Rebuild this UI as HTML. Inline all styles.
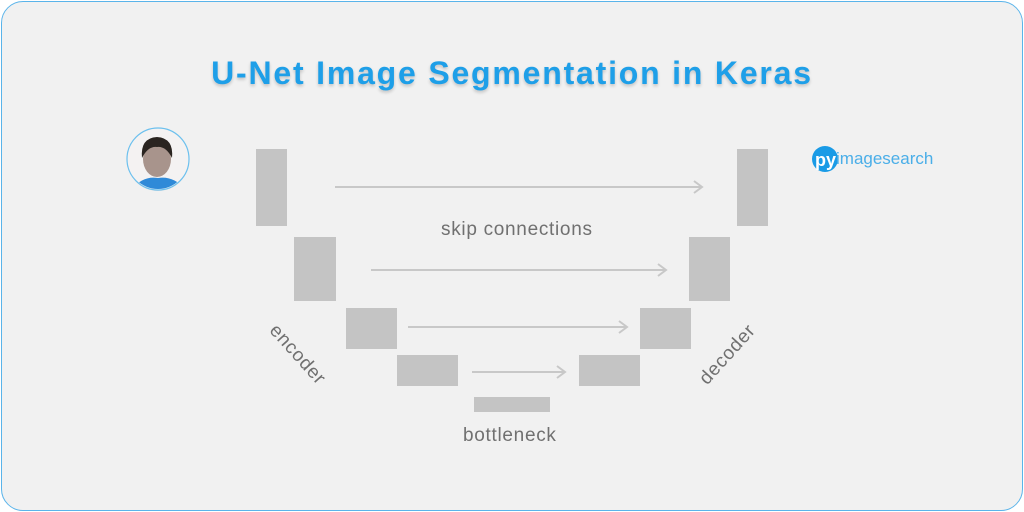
<!DOCTYPE html>
<html><head><style>
html,body{margin:0;padding:0;width:1024px;height:512px;background:#fff;overflow:hidden}
.card{position:absolute;left:1px;top:1px;width:1020px;height:508px;border:1px solid #5ab4ea;border-radius:22px;background:#f1f1f1}
.r{position:absolute;background:#c4c4c4}
.t{position:absolute;font-family:"Liberation Sans",sans-serif;color:#707070;font-size:19px;letter-spacing:0.7px;white-space:nowrap}
h1{position:absolute;left:0;width:1024px;top:55px;margin:0;text-align:center;font-family:"Liberation Sans",sans-serif;font-weight:bold;font-size:32px;letter-spacing:1.8px;color:#1e9fe8;text-shadow:0 2px 3px rgba(0,0,0,.2)}
</style></head><body>
<div class="card"></div>
<h1>U-Net Image Segmentation in Keras</h1>
<svg style="position:absolute;left:0;top:0" width="1024" height="512">
<defs><clipPath id="c"><circle cx="158" cy="159" r="30"/></clipPath></defs>
<circle cx="158" cy="160" r="31" fill="#ddd"/>
<circle cx="158" cy="159" r="31" fill="#f4f2f2" stroke="#6cc0ee" stroke-width="1.2"/>
<g clip-path="url(#c)">
<path d="M128 195 Q140 175 158 178 Q176 175 190 195Z" fill="#2f8ad8"/>
<ellipse cx="157" cy="159" rx="14" ry="18" fill="#a8948c"/>
<path d="M142 158 Q140 138 157 137 Q174 138 172 158 Q166 146 157 147 Q148 146 142 158Z" fill="#2a2420"/>
</g>
<g stroke="#c8c8c8" stroke-width="2" fill="none">
<path d="M335 187H702M694 181L702 187L694 193"/>
<path d="M371 270H666M658 264L666 270L658 276"/>
<path d="M408 327H627M619 321L627 327L619 333"/>
<path d="M472 372H565M557 366L565 372L557 378"/>
</g>
<circle cx="825" cy="159" r="13" fill="#1a9be6"/>
<text x="815" y="166" font-family="Liberation Sans,sans-serif" font-weight="bold" font-size="18" fill="#fff">py</text>
<text x="836" y="164" font-family="Liberation Sans,sans-serif" font-size="17" fill="#4aaee8">imagesearch</text>
</svg>
<div class="r" style="left:256px;top:149px;width:31px;height:77px"></div>
<div class="r" style="left:294px;top:237px;width:42px;height:64px"></div>
<div class="r" style="left:346px;top:308px;width:51px;height:41px"></div>
<div class="r" style="left:397px;top:355px;width:61px;height:31px"></div>
<div class="r" style="left:474px;top:397px;width:76px;height:15px"></div>
<div class="r" style="left:737px;top:149px;width:31px;height:77px"></div>
<div class="r" style="left:689px;top:237px;width:41px;height:64px"></div>
<div class="r" style="left:640px;top:308px;width:51px;height:41px"></div>
<div class="r" style="left:579px;top:355px;width:61px;height:31px"></div>
<div class="t" style="left:441px;top:219px">skip connections</div>
<div class="t" style="left:463px;top:425px">bottleneck</div>
<div class="t" style="left:297px;top:355px;transform:translate(-50%,-50%) rotate(48deg)">encoder</div>
<div class="t" style="left:728px;top:355px;transform:translate(-50%,-50%) rotate(-48deg)">decoder</div>
</body></html>
